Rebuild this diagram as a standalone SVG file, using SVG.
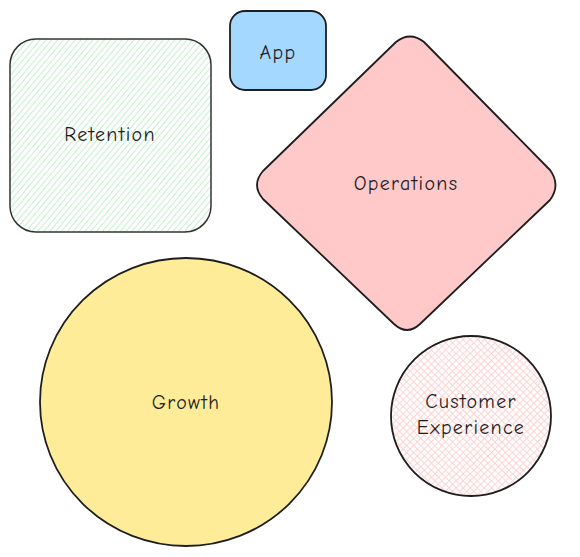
<svg xmlns="http://www.w3.org/2000/svg" width="580" height="557" viewBox="0 0 580 557">
<style>
.stroke{stroke:#1e1e1e;stroke-width:1.8;stroke-linejoin:round}
.lbl{font-family:"Comic Neue","Liberation Sans",sans-serif;font-size:20px;letter-spacing:1.3px;fill:#1e1e1e;text-anchor:middle;dominant-baseline:central}
</style>
<defs>
<pattern id="hatchGreen" patternUnits="userSpaceOnUse" width="4.5" height="4.5" patternTransform="rotate(-50)">
<rect width="4.5" height="4.5" fill="#ffffff"/>
<line x1="0" y1="2.25" x2="4.5" y2="2.25" stroke="#c3efca" stroke-width="1"/>
</pattern>
<pattern id="hatchPink" patternUnits="userSpaceOnUse" width="5" height="5" patternTransform="rotate(45)">
<rect width="5" height="5" fill="#ffffff"/>
<line x1="0" y1="2.5" x2="5" y2="2.5" stroke="#ffd3d3" stroke-width="1"/>
<line x1="2.5" y1="0" x2="2.5" y2="5" stroke="#ffd3d3" stroke-width="1"/>
</pattern>
</defs>
<rect width="580" height="557" fill="#ffffff"/>
<g id="retention">
<rect class="stroke" x="10" y="39" width="201" height="193" rx="26" fill="url(#hatchGreen)" style="stroke:#333;stroke-width:1.5"/>
<text class="lbl" x="110" y="134">Retention</text>
</g>
<g id="app">
<rect class="stroke" x="230" y="11" width="96" height="79" rx="15" fill="#a5d8ff"/>
<text class="lbl" x="278" y="52">App</text>
</g>
<g id="operations">
<path class="stroke" fill="#ffc9c9" d="M396,42 Q410,31 424,42 L550,170 Q561,185 550,200 L420,324 Q407,336 394,324 L263,199 Q251,185 263,171 Z"/>
<text class="lbl" x="406" y="183">Operations</text>
</g>
<g id="growth">
<ellipse class="stroke" cx="186" cy="402" rx="146" ry="144" fill="#ffec99"/>
<text class="lbl" x="186" y="402">Growth</text>
</g>
<g id="customer-experience">
<ellipse class="stroke" cx="471" cy="416" rx="80" ry="80" fill="url(#hatchPink)"/>
<text class="lbl" x="471" y="401">Customer</text>
<text class="lbl" x="471" y="427">Experience</text>
</g>
<g id="connectors"></g>
</svg>
